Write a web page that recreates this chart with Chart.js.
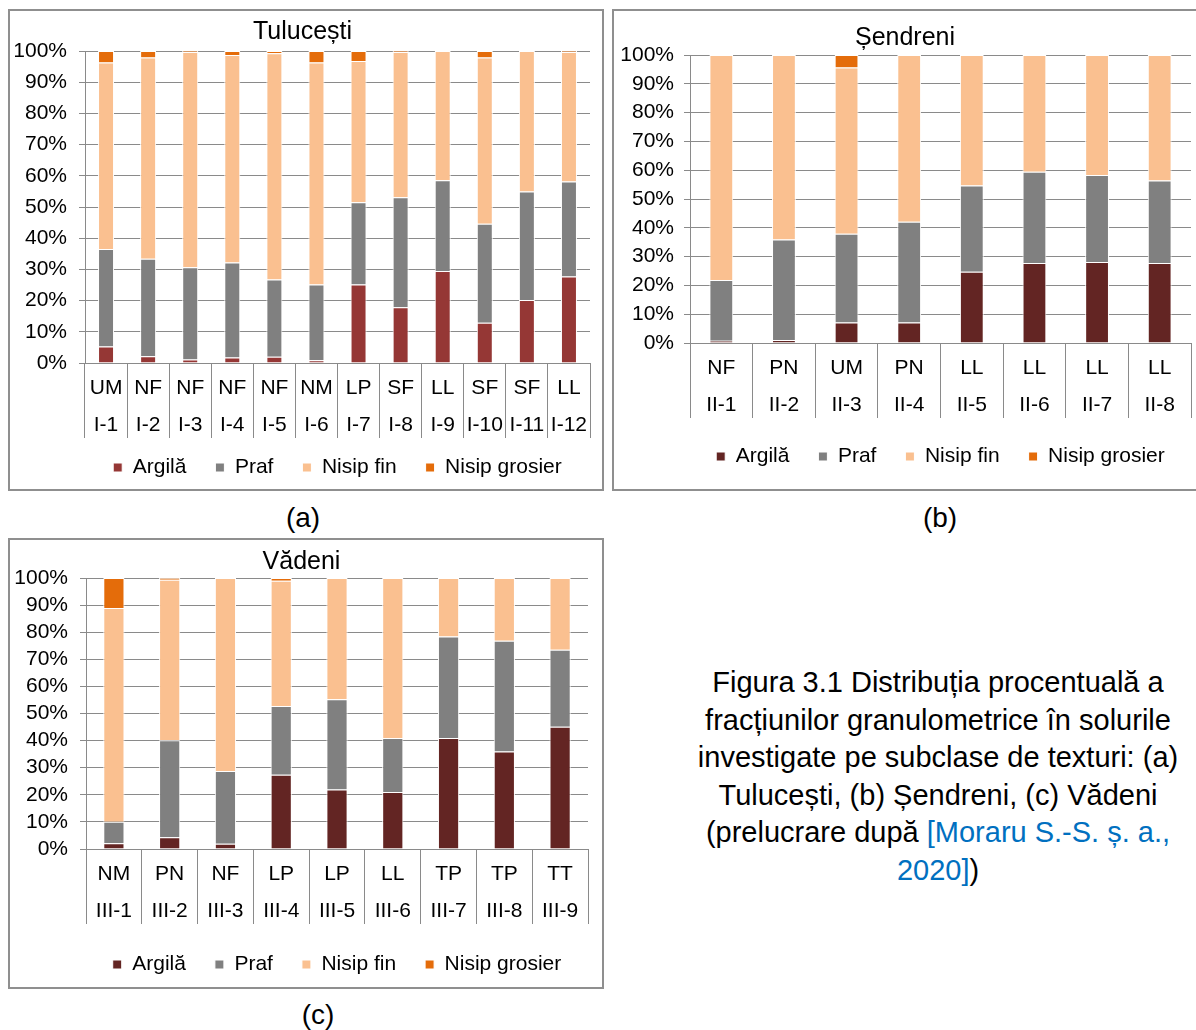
<!DOCTYPE html>
<html>
<head>
<meta charset="utf-8">
<script src="https://cdn.jsdelivr.net/npm/chart.js@4.4.1/dist/chart.umd.min.js"></script>
<style>
  body { margin:0; background:#fff; font-family:"Liberation Sans", Arial, sans-serif; }
  .panel { position:absolute; border:2px solid #8f8f8f; box-sizing:border-box; background:#fff; }
  .panel canvas { display:block; }
  .lbl { position:absolute; font-size:28px; color:#000; transform:translate(-50%,-50%); white-space:nowrap; }
  #caption { position:absolute; left:638px; top:664px; width:600px; text-align:center; font-size:29px; line-height:37.5px; color:#000; white-space:nowrap; }
  #caption .ref { color:#0070c0; }
</style>
</head>
<body>
<div class="panel" id="pa" style="left:8px;top:9px;width:596px;height:482px;"><canvas id="chartA"></canvas></div>
<div class="panel" id="pb" style="left:612px;top:9px;width:590px;height:482px;"><canvas id="chartB"></canvas></div>
<div class="panel" id="pc" style="left:8px;top:538px;width:596px;height:451px;"><canvas id="chartC"></canvas></div>
<div class="lbl" style="left:303px;top:518px;">(a)</div>
<div class="lbl" style="left:940px;top:518px;">(b)</div>
<div class="lbl" style="left:318px;top:1015px;">(c)</div>
<div id="caption">Figura 3.1 Distribuția procentuală a<br>fracțiunilor granulometrice în solurile<br>investigate pe subclase de texturi: (a)<br>Tulucești, (b) Șendreni, (c) Vădeni<br>(prelucrare după <span class="ref">[Moraru S.-S. ș. a.,<br>2020]</span>)</div>
<script>
// (a) Tulucești
const texA = ['UM','NF','NF','NF','NF','NM','LP','SF','LL','SF','SF','LL'];
const probA = ['I-1','I-2','I-3','I-4','I-5','I-6','I-7','I-8','I-9','I-10','I-11','I-12'];
const argilaA  = [5.3, 2.2, 1.1, 1.8, 2.0, 0.9, 25.2, 17.9, 29.5, 12.9, 20.2, 27.7];
const prafA    = [31.2, 31.2, 29.6, 30.4, 24.8, 24.3, 26.3, 35.2, 29.1, 31.7, 34.8, 30.5];
const finA     = [59.8, 64.5, 69.0, 66.5, 72.5, 71.1, 45.3, 46.6, 41.4, 53.3, 45.0, 41.5];
const grosierA = [3.7, 2.1, 0.3, 1.3, 0.7, 3.7, 3.2, 0.3, 0, 2.1, 0, 0.3];

// (b) Șendreni
const texB = ['NF','PN','UM','PN','LL','LL','LL','LL'];
const probB = ['II-1','II-2','II-3','II-4','II-5','II-6','II-7','II-8'];
const argilaB  = [0.8, 1.0, 7.1, 7.1, 24.7, 27.8, 28.1, 27.8];
const prafB    = [21.1, 34.9, 30.8, 35.0, 30.0, 31.7, 30.2, 28.6];
const finB     = [78.1, 64.1, 57.8, 57.9, 45.3, 40.5, 41.7, 43.6];
const grosierB = [0, 0, 4.3, 0, 0, 0, 0, 0];

// (c) Vădeni
const texC = ['NM','PN','NF','LP','LP','LL','TP','TP','TT'];
const probC = ['III-1','III-2','III-3','III-4','III-5','III-6','III-7','III-8','III-9'];
const argilaC  = [2.1, 4.3, 1.9, 27.4, 22.0, 21.0, 41.0, 36.0, 45.1];
const prafC    = [8.0, 35.8, 26.9, 25.4, 33.3, 20.0, 37.4, 40.8, 28.4];
const finC     = [78.8, 59.3, 71.2, 46.2, 44.7, 59.0, 21.6, 23.2, 26.5];
const grosierC = [11.1, 0.6, 0, 1.0, 0, 0, 0, 0, 0];

const seriesNames = ['Argilă', 'Praf', 'Nisip fin', 'Nisip grosier'];

const PRAF = '#808080', FIN = '#fac090', GROSIER = '#e46c0a';
const GRID = '#8a8a8a';
const FONT = 'Liberation Sans';

// legend centred under the plot area, like Excel does
const legendUnderPlot = {
  id: 'legendUnderPlot',
  afterLayout(chart) {
    const lg = chart.legend;
    lg.left = chart.chartArea.left - 40;
    lg.right = chart.chartArea.right + 40;
    lg.width = lg.right - lg.left;
    lg.adjustHitBoxes();
  }
};

function makeChart(id, title, tex, prob, cols, vals, lay) {
  const canvas = document.getElementById(id);
  const box = canvas.parentElement;
  canvas.width = box.clientWidth;
  canvas.height = box.clientHeight;
  return new Chart(canvas, {
    type: 'bar',
    data: {
      labels: tex.map((t, i) => [t, prob[i]]),
      datasets: vals.map((v, i) => ({
        label: seriesNames[i],
        data: v,
        backgroundColor: cols[i],
        borderColor: '#ffffff',
        borderWidth: 1,
        borderSkipped: 'start',
        categoryPercentage: 1,
        barPercentage: 0.38
      }))
    },
    plugins: [legendUnderPlot],
    options: {
      responsive: false,
      animation: false,
      layout: { padding: lay.padding },
      plugins: {
        title: {
          display: true, text: title, color: '#000',
          font: { family: FONT, size: 25, weight: 'normal' },
          padding: lay.titlePad
        },
        legend: {
          position: 'bottom',
          labels: {
            color: '#000', boxWidth: 9, boxHeight: 9, padding: 29,
            font: { family: FONT, size: 21 }
          }
        },
        tooltip: { enabled: false }
      },
      scales: {
        x: {
          stacked: true,
          grid: { offset: true, drawOnChartArea: false, drawTicks: true, tickLength: 75, color: GRID },
          border: { color: GRID },
          ticks: { color: '#000', padding: -69, font: { family: FONT, size: 21, lineHeight: 1.8 }, maxRotation: 0, autoSkip: false },
          afterFit: s => {
            s.height = lay.xHeight;
            s._computeLabelArea = () => undefined; // second label row may reach into the legend band
          }
        },
        y: {
          stacked: true, min: 0, max: 100,
          grid: { color: GRID, tickLength: 6 },
          border: { color: GRID },
          ticks: { stepSize: 10, autoSkip: false, color: '#000', padding: lay.yPad, font: { family: FONT, size: 21 }, callback: v => v + '%' },
          afterFit: s => { s.width = lay.yWidth; }
        }
      }
    }
  });
}

makeChart('chartA', 'Tulucești', texA, probA, ['#953735', PRAF, FIN, GROSIER],
  [argilaA, prafA, finA, grosierA],
  { padding: { left: 5, right: 12, top: 4, bottom: 1 }, titlePad: { top: 2, bottom: 4 }, xHeight: 65, yWidth: 70, yPad: 12 });

makeChart('chartB', 'Șendreni', texB, probB, ['#632523', PRAF, FIN, GROSIER],
  [argilaB, prafB, finB, grosierB],
  { padding: { left: 5, right: 9, top: 8, bottom: 12 }, titlePad: { top: 4, bottom: 2 }, xHeight: 74, yWidth: 71, yPad: 10 });

makeChart('chartC', 'Vădeni', texC, probC, ['#632523', PRAF, FIN, GROSIER],
  [argilaC, prafC, finC, grosierC],
  { padding: { left: 5, right: 14, top: 2, bottom: 2 }, titlePad: { top: 5, bottom: 1 }, xHeight: 76, yWidth: 71, yPad: 12 });
</script>
</body>
</html>
